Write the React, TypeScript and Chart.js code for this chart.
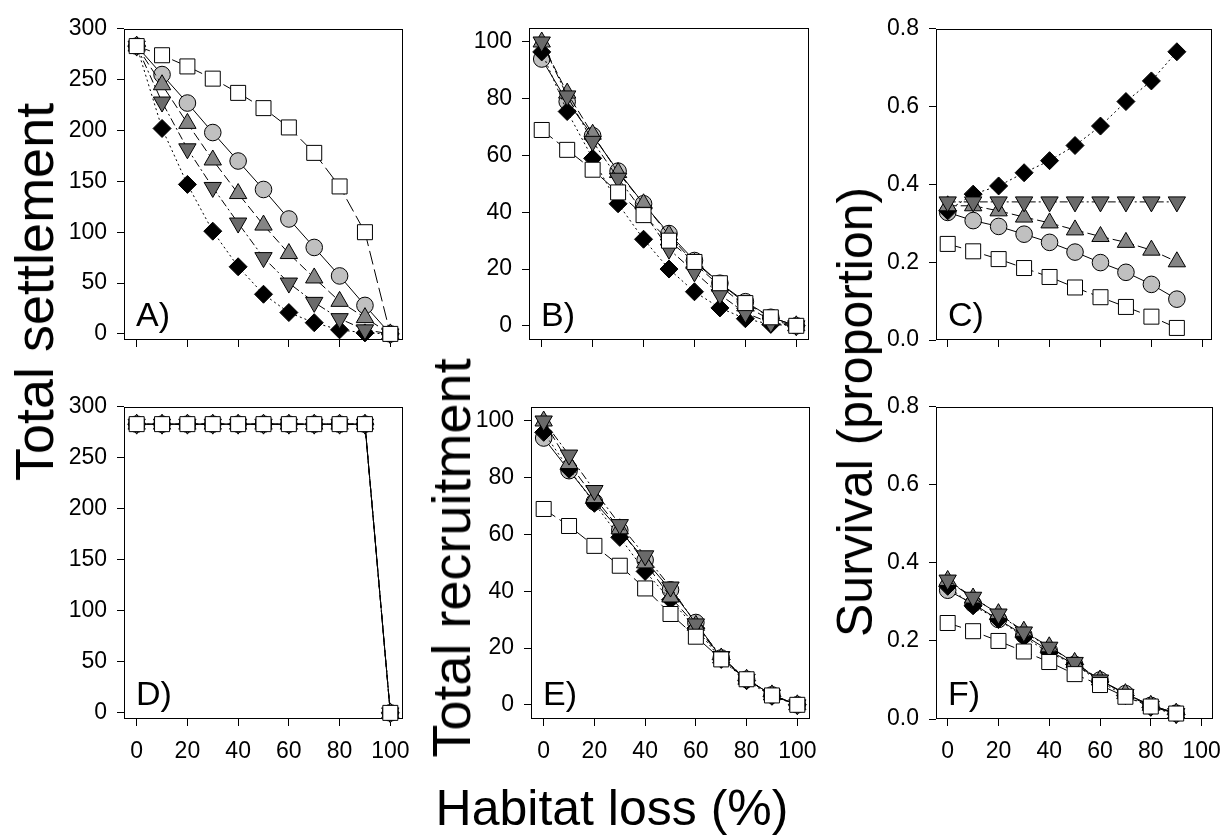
import React, { useEffect, useRef } from "react";
import { Chart, registerables } from "chart.js";

Chart.register(...registerables);

const FONT = "'Liberation Sans', Arial, Helvetica, sans-serif";

// ---------- data ----------
const HABITAT_LOSS = [0, 10, 20, 30, 40, 50, 60, 70, 80, 90, 100];
const HABITAT_LOSS_SURV = [0, 10, 20, 30, 40, 50, 60, 70, 80, 90];

const X_TICKS = [0, 20, 40, 60, 80, 100];
const SETTLEMENT_TICKS = [0, 50, 100, 150, 200, 250, 300];
const RECRUITMENT_TICKS = [0, 20, 40, 60, 80, 100];
const SURVIVAL_TICKS = [0, 0.2, 0.4, 0.6, 0.8];

const PANEL_LETTERS = ["A)", "B)", "C)", "D)", "E)", "F)"];
const Y_TITLES = ["Total settlement", "Total recruitment", "Survival (proportion)"];
const X_TITLE = "Habitat loss (%)";

// Panel A – total settlement
const A_SQUARE = [283, 274, 263, 251, 237, 222, 203, 178, 145, 100, 0];
const A_CIRCLE = [283, 255, 227, 198, 170, 142, 113, 85, 57, 28, 0];
const A_TRI_UP = [283, 245, 207, 171, 138, 107, 79, 55, 32, 16, 0];
const A_TRI_DOWN = [283, 228, 182, 144, 109, 75, 50, 31, 15, 4, 0];
const A_DIAMOND = [283, 202, 147, 101, 66, 39, 21, 11, 4, 1, 0];

// Panel B – total recruitment
const B_SQUARE = [69, 62, 55, 47, 39, 30, 22.5, 15, 8, 3, 0];
const B_CIRCLE = [94, 79, 67, 54.5, 43, 32.5, 23, 15, 8.5, 3, 0];
const B_TRI_UP = [100, 82, 67.5, 54, 43, 32, 22, 14, 7, 2, 0];
const B_TRI_DOWN = [100, 81, 65, 52, 40, 27, 19, 11, 4.5, 1, 0];
const B_DIAMOND = [96.5, 75.5, 59, 43, 30.5, 20, 12, 6.3, 2.5, 0.5, 0];

// Panel C – survival
const C_SQUARE = [0.247, 0.228, 0.208, 0.185, 0.162, 0.135, 0.11, 0.085, 0.06, 0.031];
const C_CIRCLE = [0.328, 0.307, 0.292, 0.272, 0.251, 0.226, 0.199, 0.174, 0.143, 0.105];
const C_TRI_UP = [0.345, 0.345, 0.332, 0.316, 0.301, 0.283, 0.266, 0.251, 0.231, 0.201];
const C_TRI_DOWN = [0.355, 0.355, 0.355, 0.355, 0.355, 0.355, 0.355, 0.355, 0.355, 0.355];
const C_DIAMOND = [0.332, 0.375, 0.396, 0.43, 0.461, 0.5, 0.55, 0.613, 0.666, 0.741];

// Panel D – total settlement
const D_SQUARE = [283, 283, 283, 283, 283, 283, 283, 283, 283, 283, 0];
const D_CIRCLE = [283, 283, 283, 283, 283, 283, 283, 283, 283, 283, 0];
const D_TRI_UP = [283, 283, 283, 283, 283, 283, 283, 283, 283, 283, 0];
const D_TRI_DOWN = [283, 283, 283, 283, 283, 283, 283, 283, 283, 283, 0];
const D_DIAMOND = [283, 283, 283, 283, 283, 283, 283, 283, 283, 283, 0];

// Panel E – total recruitment
const E_SQUARE = [69, 63, 56, 49, 41, 32, 24, 16, 9, 3.3, 0];
const E_CIRCLE = [94, 82.5, 71.5, 61.5, 51, 40.5, 29, 16.5, 9, 3.5, 0];
const E_TRI_UP = [100, 85, 73, 62, 50, 38, 28, 16.5, 9, 3.5, 0];
const E_TRI_DOWN = [100, 88, 75.5, 63.5, 52.5, 41.5, 28.5, 17, 9, 3.5, 0];
const E_DIAMOND = [96, 83, 71, 59, 47, 37, 27, 16, 8.5, 3, 0];

// Panel F – survival
const F_SQUARE = [0.246, 0.225, 0.2, 0.173, 0.146, 0.115, 0.087, 0.057, 0.032, 0.014];
const F_CIRCLE = [0.33, 0.295, 0.255, 0.215, 0.175, 0.14, 0.1, 0.065, 0.035, 0.015];
const F_TRI_UP = [0.355, 0.31, 0.27, 0.225, 0.185, 0.145, 0.1, 0.065, 0.035, 0.015];
const F_TRI_DOWN = [0.356, 0.312, 0.269, 0.223, 0.184, 0.145, 0.1, 0.063, 0.033, 0.014];
const F_DIAMOND = [0.34, 0.29, 0.255, 0.21, 0.17, 0.14, 0.095, 0.06, 0.03, 0.012];

// ---------- styles ----------
type SeriesStyle = {
  pointStyle: string;
  rotation: number;
  radius: number;
  fill: string;
  dash: number[];
};
// index 0 is drawn on top (Chart.js draws datasets in reverse order)
const STYLES: SeriesStyle[] = [
  { pointStyle: "rect", rotation: 0, radius: 10.6, fill: "#ffffff", dash: [14, 5] },
  { pointStyle: "triangle", rotation: 180, radius: 10, fill: "#6a6a6a", dash: [8, 3, 2, 3] },
  { pointStyle: "triangle", rotation: 0, radius: 10, fill: "#858585", dash: [9, 4] },
  { pointStyle: "rectRot", rotation: 0, radius: 9, fill: "#000000", dash: [2, 3] },
  { pointStyle: "circle", rotation: 0, radius: 8.3, fill: "#c0c0c0", dash: [] },
];

type PanelDef = {
  letter: string;
  left: number;
  top: number;
  width: number;
  height: number;
  xMin: number;
  xMax: number;
  yMin: number;
  yMax: number;
  yTicks: number[];
  decimals: number;
  showXLabels: boolean;
  x: number[];
  series: number[][]; // square, triDown, triUp, diamond, circle
};

const Y_AXIS_W = 90;
const PAD_TOP = 14;
const PAD_RIGHT = 22;
const X_AXIS_H = 50;

const PANELS: PanelDef[] = [
  { letter: PANEL_LETTERS[0], left: 124, top: 19, width: 279, height: 321, xMin: -5, xMax: 105, yMin: -6, yMax: 300, yTicks: SETTLEMENT_TICKS, decimals: 0, showXLabels: false, x: HABITAT_LOSS, series: [A_SQUARE, A_TRI_DOWN, A_TRI_UP, A_DIAMOND, A_CIRCLE] },
  { letter: PANEL_LETTERS[1], left: 529, top: 18, width: 280, height: 322, xMin: -5, xMax: 105, yMin: -5, yMax: 105, yTicks: RECRUITMENT_TICKS, decimals: 0, showXLabels: false, x: HABITAT_LOSS, series: [B_SQUARE, B_TRI_DOWN, B_TRI_UP, B_DIAMOND, B_CIRCLE] },
  { letter: PANEL_LETTERS[2], left: 936, top: 19, width: 276, height: 321, xMin: -4.6, xMax: 103.8, yMin: 0, yMax: 0.8, yTicks: SURVIVAL_TICKS, decimals: 1, showXLabels: false, x: HABITAT_LOSS_SURV, series: [C_SQUARE, C_TRI_DOWN, C_TRI_UP, C_DIAMOND, C_CIRCLE] },
  { letter: PANEL_LETTERS[3], left: 124, top: 397, width: 279, height: 322, xMin: -5, xMax: 105, yMin: -6, yMax: 300, yTicks: SETTLEMENT_TICKS, decimals: 0, showXLabels: true, x: HABITAT_LOSS, series: [D_SQUARE, D_TRI_DOWN, D_TRI_UP, D_DIAMOND, D_CIRCLE] },
  { letter: PANEL_LETTERS[4], left: 531, top: 397, width: 279, height: 322, xMin: -5, xMax: 105, yMin: -5, yMax: 105, yTicks: RECRUITMENT_TICKS, decimals: 0, showXLabels: true, x: HABITAT_LOSS, series: [E_SQUARE, E_TRI_DOWN, E_TRI_UP, E_DIAMOND, E_CIRCLE] },
  { letter: PANEL_LETTERS[5], left: 936, top: 397, width: 277, height: 322, xMin: -4.6, xMax: 104.5, yMin: 0, yMax: 0.8, yTicks: SURVIVAL_TICKS, decimals: 1, showXLabels: true, x: HABITAT_LOSS_SURV, series: [F_SQUARE, F_TRI_DOWN, F_TRI_UP, F_DIAMOND, F_CIRCLE] },
];

const framePlugin = {
  id: "panelFrame",
  beforeDatasetsDraw(chart: any, _args: any, opts: any) {
    const { ctx, chartArea: a } = chart;
    ctx.save();
    ctx.strokeStyle = "#000";
    ctx.lineWidth = 1;
    const l = Math.round(a.left) + 0.5;
    const t = Math.round(a.top) + 0.5;
    const r = Math.round(a.right) - 0.5;
    const b = Math.round(a.bottom) - 0.5;
    ctx.strokeRect(l, t, r - l, b - t);
    if (opts && opts.text) {
      ctx.fillStyle = "#000";
      ctx.font = `34px ${FONT}`;
      ctx.textBaseline = "alphabetic";
      ctx.textAlign = "left";
      ctx.fillText(opts.text, a.left + 12, a.bottom - 14);
    }
    ctx.restore();
  },
};

function Panel({ def }: { def: PanelDef }) {
  const ref = useRef<HTMLCanvasElement | null>(null);
  useEffect(() => {
    const canvas = ref.current;
    if (!canvas) return;
    const datasets = def.series.map((vals, i) => {
      const s = STYLES[i];
      return {
        data: vals.map((v, j) => ({ x: def.x[j], y: v })),
        borderColor: "#000",
        borderWidth: 1,
        borderDash: s.dash,
        pointStyle: s.pointStyle as any,
        rotation: s.rotation,
        pointRotation: s.rotation,
        pointRadius: s.radius,
        pointBackgroundColor: s.fill,
        pointBorderColor: "#000",
        pointBorderWidth: 1,
        tension: 0,
        fill: false,
        clip: false as any,
      };
    });
    const tickFont = { family: FONT, size: 23 };
    const chart = new Chart(canvas, {
      type: "line",
      data: { datasets: datasets as any },
      plugins: [framePlugin as any],
      options: {
        animation: false,
        responsive: false,
        events: [],
        layout: { padding: { top: PAD_TOP, right: PAD_RIGHT, left: 0, bottom: 0 } },
        plugins: {
          legend: { display: false },
          tooltip: { enabled: false },
          panelFrame: { text: def.letter },
        } as any,
        scales: {
          x: {
            type: "linear",
            min: def.xMin,
            max: def.xMax,
            afterBuildTicks: (scale: any) => {
              scale.ticks = X_TICKS.map((v) => ({ value: v }));
            },
            afterFit: (scale: any) => {
              scale.height = X_AXIS_H;
            },
            border: { display: false },
            grid: { drawOnChartArea: false, drawTicks: true, tickLength: 7, color: "#000", lineWidth: 1 },
            ticks: {
              autoSkip: false,
              maxRotation: 0,
              padding: 12,
              color: "#000",
              font: tickFont,
              callback: (v: any) => (def.showXLabels ? String(v) : ""),
            },
          },
          y: {
            type: "linear",
            min: def.yMin,
            max: def.yMax,
            afterBuildTicks: (scale: any) => {
              scale.ticks = def.yTicks.map((v) => ({ value: v }));
            },
            afterFit: (scale: any) => {
              scale.width = Y_AXIS_W;
            },
            border: { display: false },
            grid: { drawOnChartArea: false, drawTicks: true, tickLength: 7, color: "#000", lineWidth: 1 },
            ticks: {
              autoSkip: false,
              padding: 10,
              color: "#000",
              font: tickFont,
              callback: (v: any) => Number(v).toFixed(def.decimals),
            },
          },
        },
      } as any,
    });
    return () => chart.destroy();
  }, [def]);

  const w = Y_AXIS_W + def.width + PAD_RIGHT;
  const h = PAD_TOP + def.height + X_AXIS_H;
  return (
    <canvas
      ref={ref}
      width={w}
      height={h}
      style={{ position: "absolute", left: def.left - Y_AXIS_W, top: def.top - PAD_TOP, width: w, height: h }}
    />
  );
}

const titleBase: React.CSSProperties = {
  position: "absolute",
  fontFamily: FONT,
  color: "#000",
  lineHeight: 1,
  whiteSpace: "nowrap",
};

export default function App() {
  return (
    <div
      style={{
        position: "absolute",
        left: 0,
        top: 0,
        width: 1227,
        height: 836,
        overflow: "hidden",
        background: "#fff",
      }}
    >
      {PANELS.map((p) => (
        <Panel key={p.letter} def={p} />
      ))}
      <div style={{ ...titleBase, fontSize: 54, left: 34, top: 292, transform: "translate(-50%, -50%) rotate(-90deg)" }}>
        {Y_TITLES[0]}
      </div>
      <div style={{ ...titleBase, fontSize: 54, left: 451, top: 558, transform: "translate(-50%, -50%) rotate(-90deg)" }}>
        {Y_TITLES[1]}
      </div>
      <div style={{ ...titleBase, fontSize: 50, left: 855, top: 412, transform: "translate(-50%, -50%) rotate(-90deg)" }}>
        {Y_TITLES[2]}
      </div>
      <div style={{ ...titleBase, fontSize: 50, left: 612, top: 808, transform: "translate(-50%, -50%)" }}>
        {X_TITLE}
      </div>
    </div>
  );
}
